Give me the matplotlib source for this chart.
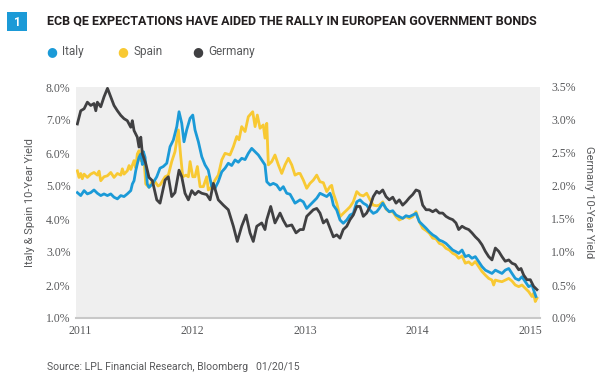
import matplotlib
matplotlib.use("Agg")
import matplotlib.pyplot as plt
from matplotlib.patches import Rectangle

# ---------------- data (decimal years, yields in %) ----------------
italy_t = [2010.976, 2011.006, 2011.036, 2011.065, 2011.095, 2011.124, 2011.154, 2011.184, 2011.213, 2011.243,
           2011.273, 2011.302, 2011.332, 2011.362, 2011.391, 2011.420, 2011.451, 2011.465, 2011.480, 2011.495,
           2011.509, 2011.524, 2011.540, 2011.554, 2011.563, 2011.578, 2011.598, 2011.613, 2011.643, 2011.682,
           2011.711, 2011.740, 2011.771, 2011.800, 2011.829, 2011.860, 2011.880, 2011.904, 2011.924, 2011.948,
           2011.978, 2012.002, 2012.022, 2012.052, 2012.082, 2012.111, 2012.140, 2012.171, 2012.200, 2012.229,
           2012.260, 2012.289, 2012.318, 2012.348, 2012.378, 2012.407, 2012.437, 2012.467, 2012.496, 2012.526,
           2012.556, 2012.585, 2012.615, 2012.644, 2012.660, 2012.689, 2012.718, 2012.748, 2012.778, 2012.807,
           2012.837, 2012.867, 2012.911, 2012.956, 2012.985, 2013.015, 2013.044, 2013.074, 2013.104, 2013.133,
           2013.163, 2013.193, 2013.222, 2013.237, 2013.252, 2013.282, 2013.311, 2013.340, 2013.371, 2013.400,
           2013.429, 2013.460, 2013.489, 2013.518, 2013.548, 2013.578, 2013.607, 2013.637, 2013.660, 2013.691,
           2013.720, 2013.749, 2013.780, 2013.809, 2013.838, 2013.868, 2013.898, 2013.927, 2013.957, 2013.987,
           2014.016, 2014.046, 2014.076, 2014.105, 2014.135, 2014.164, 2014.194, 2014.224, 2014.253, 2014.283,
           2014.313, 2014.342, 2014.366, 2014.396, 2014.425, 2014.455, 2014.484, 2014.514, 2014.544, 2014.573,
           2014.603, 2014.633, 2014.662, 2014.692, 2014.722, 2014.751, 2014.780, 2014.811, 2014.840, 2014.869,
           2014.900, 2014.929, 2014.958, 2014.988, 2015.018, 2015.032, 2015.053]
italy_y = [4.80, 4.71, 4.86, 4.76, 4.80, 4.88, 4.78, 4.71, 4.76, 4.71,
           4.76, 4.66, 4.61, 4.71, 4.68, 4.76, 4.86, 5.06, 5.16, 5.46,
           5.67, 5.87, 5.97, 5.65, 6.04, 5.87, 5.06, 4.96, 5.06, 5.28,
           5.54, 5.59, 5.69, 6.19, 6.39, 6.80, 7.25, 6.90, 6.34, 6.70,
           7.05, 7.15, 6.70, 6.34, 5.89, 5.64, 5.48, 4.98, 4.93, 5.13,
           5.43, 5.54, 5.69, 5.62, 5.79, 5.72, 5.84, 5.80, 5.99, 6.14,
           6.04, 5.94, 5.79, 5.64, 5.13, 5.03, 5.08, 5.03, 4.88, 4.98,
           4.78, 4.75, 4.48, 4.58, 4.52, 4.32, 4.42, 4.52, 4.63, 4.78,
           4.73, 4.68, 4.78, 4.65, 4.42, 4.27, 3.97, 3.87, 3.97, 4.12,
           4.17, 4.52, 4.58, 4.48, 4.42, 4.27, 4.17, 4.22, 4.32, 4.48,
           4.32, 4.22, 4.25, 4.12, 4.07, 4.02, 4.10, 4.07, 4.12, 4.17,
           3.92, 3.82, 3.72, 3.61, 3.52, 3.46, 3.36, 3.32, 3.26, 3.16,
           3.06, 3.01, 2.96, 3.06, 2.86, 2.90, 2.81, 2.86, 2.71, 2.56,
           2.45, 2.40, 2.35, 2.45, 2.40, 2.35, 2.45, 2.50, 2.35, 2.20,
           2.15, 2.25, 2.10, 1.95, 2.00, 1.85, 1.65]

spain_t = [2010.976, 2010.991, 2011.006, 2011.020, 2011.036, 2011.065, 2011.095, 2011.124, 2011.154, 2011.169,
           2011.184, 2011.213, 2011.243, 2011.273, 2011.302, 2011.332, 2011.362, 2011.376, 2011.391, 2011.420,
           2011.436, 2011.451, 2011.480, 2011.495, 2011.509, 2011.524, 2011.540, 2011.554, 2011.569, 2011.584,
           2011.613, 2011.643, 2011.667, 2011.693, 2011.711, 2011.756, 2011.785, 2011.815, 2011.844, 2011.860,
           2011.874, 2011.895, 2011.913, 2011.942, 2011.963, 2011.978, 2012.002, 2012.022, 2012.043, 2012.067,
           2012.096, 2012.126, 2012.140, 2012.171, 2012.200, 2012.229, 2012.260, 2012.289, 2012.318, 2012.333,
           2012.363, 2012.393, 2012.413, 2012.437, 2012.467, 2012.496, 2012.535, 2012.556, 2012.576, 2012.600,
           2012.629, 2012.644, 2012.660, 2012.674, 2012.704, 2012.733, 2012.763, 2012.793, 2012.822, 2012.852,
           2012.882, 2012.911, 2012.940, 2012.956, 2012.985, 2013.015, 2013.044, 2013.074, 2013.104, 2013.133,
           2013.163, 2013.193, 2013.222, 2013.237, 2013.252, 2013.282, 2013.311, 2013.340, 2013.371, 2013.400,
           2013.429, 2013.460, 2013.489, 2013.518, 2013.548, 2013.578, 2013.607, 2013.637, 2013.660, 2013.691,
           2013.720, 2013.749, 2013.780, 2013.809, 2013.838, 2013.868, 2013.898, 2013.927, 2013.957, 2013.987,
           2014.016, 2014.046, 2014.076, 2014.105, 2014.135, 2014.164, 2014.194, 2014.224, 2014.253, 2014.283,
           2014.313, 2014.342, 2014.366, 2014.396, 2014.425, 2014.455, 2014.484, 2014.514, 2014.544, 2014.573,
           2014.603, 2014.633, 2014.662, 2014.677, 2014.692, 2014.722, 2014.751, 2014.780, 2014.811, 2014.840,
           2014.869, 2014.900, 2014.929, 2014.958, 2014.988, 2015.018, 2015.032, 2015.047, 2015.062]
spain_y = [5.46, 5.26, 5.38, 5.22, 5.36, 5.26, 5.36, 5.41, 5.33, 5.45,
           5.16, 5.28, 5.31, 5.41, 5.26, 5.38, 5.33, 5.52, 5.36, 5.46,
           5.62, 5.50, 5.77, 5.55, 5.97, 6.07, 5.77, 5.87, 5.77, 5.06,
           4.96, 5.16, 5.13, 5.00, 5.03, 5.28, 5.33, 5.74, 6.04, 6.39,
           6.70, 5.89, 5.28, 5.33, 5.28, 5.74, 5.28, 5.28, 5.59, 4.98,
           4.98, 5.28, 4.88, 4.98, 5.18, 5.33, 5.79, 5.99, 5.96, 5.94,
           6.19, 6.50, 6.40, 6.80, 6.65, 7.10, 7.25, 6.80, 7.15, 6.75,
           6.85, 6.45, 6.90, 5.64, 5.74, 5.94, 5.64, 5.38, 5.64, 5.84,
           5.64, 5.33, 5.38, 5.38, 5.18, 4.93, 5.08, 5.18, 5.33, 5.13,
           5.10, 4.83, 4.98, 5.02, 4.78, 4.48, 4.07, 4.17, 4.27, 4.37,
           4.52, 4.83, 4.73, 4.70, 4.78, 4.58, 4.42, 4.40, 4.42, 4.52,
           4.30, 4.22, 4.22, 4.07, 3.97, 4.02, 4.07, 4.02, 4.07, 4.22,
           3.92, 3.72, 3.65, 3.57, 3.42, 3.40, 3.26, 3.22, 3.11, 3.06,
           2.96, 2.91, 2.81, 2.88, 2.66, 2.70, 2.61, 2.71, 2.56, 2.41,
           2.30, 2.20, 2.15, 2.00, 2.15, 2.12, 2.10, 2.15, 2.20, 2.12,
           2.00, 1.95, 2.00, 1.90, 1.80, 1.65, 1.75, 1.50, 1.60]

germany_t = [2010.976, 2011.006, 2011.036, 2011.065, 2011.095, 2011.124, 2011.140, 2011.154, 2011.184, 2011.213,
             2011.244, 2011.273, 2011.302, 2011.332, 2011.362, 2011.391, 2011.420, 2011.451, 2011.465, 2011.480,
             2011.509, 2011.524, 2011.540, 2011.554, 2011.584, 2011.613, 2011.643, 2011.682, 2011.711, 2011.756,
             2011.785, 2011.815, 2011.844, 2011.880, 2011.904, 2011.933, 2011.963, 2011.993, 2012.022, 2012.052,
             2012.082, 2012.126, 2012.156, 2012.185, 2012.229, 2012.274, 2012.318, 2012.363, 2012.398, 2012.437,
             2012.476, 2012.511, 2012.540, 2012.571, 2012.615, 2012.644, 2012.660, 2012.695, 2012.733, 2012.778,
             2012.807, 2012.837, 2012.882, 2012.920, 2012.956, 2012.985, 2013.015, 2013.044, 2013.074, 2013.104,
             2013.133, 2013.163, 2013.193, 2013.222, 2013.252, 2013.282, 2013.311, 2013.340, 2013.371, 2013.400,
             2013.429, 2013.460, 2013.489, 2013.518, 2013.548, 2013.578, 2013.607, 2013.637, 2013.660, 2013.691,
             2013.720, 2013.749, 2013.780, 2013.809, 2013.838, 2013.868, 2013.898, 2013.927, 2013.957, 2013.987,
             2014.016, 2014.046, 2014.076, 2014.105, 2014.135, 2014.164, 2014.194, 2014.224, 2014.253, 2014.283,
             2014.313, 2014.342, 2014.366, 2014.396, 2014.425, 2014.455, 2014.484, 2014.514, 2014.544, 2014.573,
             2014.603, 2014.633, 2014.662, 2014.692, 2014.722, 2014.751, 2014.780, 2014.811, 2014.840, 2014.869,
             2014.900, 2014.920, 2014.944, 2014.973, 2015.003, 2015.032, 2015.062]
germany_y = [2.94, 3.14, 3.17, 3.27, 3.22, 3.25, 3.14, 3.27, 3.20, 3.35,
             3.48, 3.35, 3.22, 3.14, 3.07, 3.02, 2.99, 2.89, 2.99, 2.84,
             2.74, 2.59, 2.74, 2.49, 2.34, 2.13, 2.08, 1.79, 1.74, 2.09,
             2.14, 1.84, 1.90, 2.24, 2.14, 1.89, 1.79, 1.93, 1.87, 1.92,
             1.89, 1.87, 1.79, 2.04, 1.79, 1.71, 1.64, 1.39, 1.16, 1.39,
             1.56, 1.29, 1.16, 1.39, 1.44, 1.34, 1.49, 1.69, 1.44, 1.59,
             1.48, 1.39, 1.41, 1.29, 1.34, 1.34, 1.54, 1.59, 1.64, 1.66,
             1.59, 1.44, 1.49, 1.36, 1.23, 1.26, 1.21, 1.34, 1.39, 1.49,
             1.56, 1.69, 1.69, 1.54, 1.59, 1.69, 1.84, 1.92, 1.89, 1.94,
             1.84, 1.79, 1.83, 1.74, 1.79, 1.71, 1.76, 1.82, 1.87, 1.94,
             1.92, 1.71, 1.64, 1.64, 1.61, 1.64, 1.59, 1.59, 1.54, 1.51,
             1.49, 1.44, 1.34, 1.39, 1.36, 1.34, 1.29, 1.23, 1.18, 1.11,
             1.01, 0.93, 0.88, 1.06, 1.01, 0.93, 0.86, 0.88, 0.83, 0.81,
             0.73, 0.75, 0.65, 0.58, 0.58, 0.48, 0.43]

years = [2011, 2012, 2013, 2014, 2015]
left_ticks = [1.0, 2.0, 3.0, 4.0, 5.0, 6.0, 7.0, 8.0]
right_ticks = [0.0, 0.5, 1.0, 1.5, 2.0, 2.5, 3.0, 3.5]

BLUE = "#1B9AD7"
YELLOW = "#F8C933"
DARK = "#404042"
GRAYTXT = "#58595B"

SANS = ["Liberation Sans Narrow", "Roboto", "DejaVu Sans"]
SERIF = ["Liberation Serif", "DejaVu Serif"]

fig = plt.figure(figsize=(6.0, 3.83), dpi=100)
fig.patch.set_facecolor("white")
ax = fig.add_axes([76/600, 65/383, 464/600, 231/383])
ax.set_facecolor("#EFEFEF")
ax2 = ax.twinx()
ax2.patch.set_visible(False)

lw = 2.0
ax.plot(italy_t, italy_y, color=BLUE, lw=lw, solid_joinstyle="round", zorder=3)
ax.plot(spain_t, spain_y, color=YELLOW, lw=lw, solid_joinstyle="round", zorder=2)
ax2.plot(germany_t, germany_y, color=DARK, lw=lw, solid_joinstyle="round", zorder=1)

ax.set_xlim(2010.964, 2015.089)
ax.set_ylim(1.0, 8.0)
ax2.set_ylim(0.0, 3.5)

ax.set_yticks(left_ticks)
ax.set_yticklabels([f"{v:.1f}%" for v in left_ticks], family=SERIF, fontsize=8.5, color=GRAYTXT)
ax2.set_yticks(right_ticks)
ax2.set_yticklabels([f"{v:.1f}%" for v in right_ticks], family=SERIF, fontsize=8.5, color=GRAYTXT)
ax.set_xticks(years)
ax.set_xticklabels([str(y) for y in years], family=SERIF, fontsize=8.5, color=GRAYTXT)

for a in (ax, ax2):
    for s in a.spines.values():
        s.set_visible(False)
    a.tick_params(length=0)
ax.spines["bottom"].set_visible(True)
ax.spines["bottom"].set_color("#C8C8C8")
ax.spines["bottom"].set_linewidth(1.5)
ax.tick_params(axis="x", pad=5)
ax.tick_params(axis="y", pad=4)
ax2.tick_params(axis="y", pad=8)

ax.set_ylabel("Italy & Spain 10-Year Yield", family=SANS, fontsize=8, color=GRAYTXT, labelpad=8)
ax2.set_ylabel("Germany 10-Year Yield", family=SANS, fontsize=8, color=GRAYTXT, rotation=270, labelpad=13)

# title block
fig.patches.append(Rectangle((7/600, 1 - 31/383), 20/600, 19/383, transform=fig.transFigure,
                             facecolor=BLUE, edgecolor="none"))
fig.text(17/600, 1 - 22/383, "1", color="white", fontsize=8.5, fontweight="bold",
         family=SANS, ha="center", va="center")
fig.text(47/600, 1 - 21/383, "ECB QE EXPECTATIONS HAVE AIDED THE RALLY IN EUROPEAN GOVERNMENT BONDS",
         color="#231F20", fontsize=9, fontweight="bold", family=SANS, ha="left", va="center")

# legend
for xc, label, col in [(52, "Italy", BLUE), (123, "Spain", YELLOW), (198, "Germany", DARK)]:
    fig.text(xc/600, 1 - 52/383, "\u25CF", color=col, fontsize=9, family=["DejaVu Sans"],
             ha="center", va="center")
    fig.text((xc + 10)/600, 1 - 52/383, label, color=GRAYTXT, fontsize=8.5, family=SANS,
             ha="left", va="center")

fig.text(47/600, 1 - 367/383, "Source: LPL Financial Research, Bloomberg   01/20/15",
         color=GRAYTXT, fontsize=7.5, family=SANS, ha="left", va="center")

fig.savefig("out.png", dpi=100, facecolor="white")
